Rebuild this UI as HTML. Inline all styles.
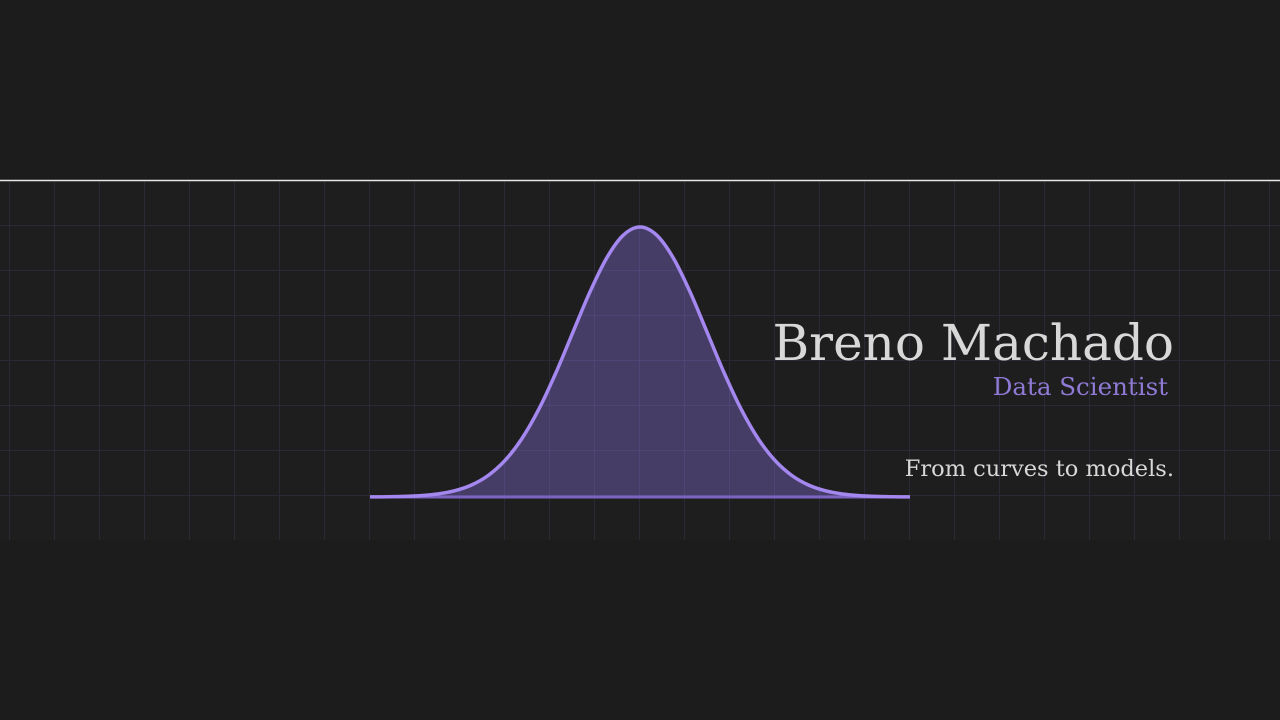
<!DOCTYPE html>
<html><head><meta charset="utf-8"><style>
html,body{margin:0;padding:0;background:#1c1c1c;width:1280px;height:720px;overflow:hidden}
svg{display:block}
</style></head><body>
<svg id="c" width="1280" height="720" xmlns="http://www.w3.org/2000/svg">
<rect x="0" y="0" width="1280" height="720" fill="#1c1c1c"/>
<rect x="0" y="181" width="1280" height="359" fill="#1e1e1e"/>
<g id="grid"></g>
<line x1="0" y1="180.5" x2="1280" y2="180.5" stroke="#e8e8e8" stroke-width="1.5"/>
<path id="area" fill="#8a70e0" fill-opacity="0.38"/>
<line id="base" stroke="#7a64c0" stroke-width="3"/>
<path id="curve" fill="none" stroke="#a488f0" stroke-width="3.5" stroke-linejoin="round"/>
<text x="1174" y="360" text-anchor="end" font-family="'DejaVu Serif','Liberation Serif',serif" font-size="50" fill="#d8d8d8">Breno Machado</text>
<text x="1168" y="395" text-anchor="end" font-family="'DejaVu Serif','Liberation Serif',serif" font-size="24.5" fill="#8f7ad6">Data Scientist</text>
<text x="1174" y="476" text-anchor="end" font-family="'DejaVu Serif','Liberation Serif',serif" font-size="22.5" fill="#d8d8d8">From curves to models.</text>
</svg>
<script>
const xValues=[-4,-3.75,-3.5,-3.25,-3,-2.75,-2.5,-2.25,-2,-1.75,-1.5,-1.25,-1,-0.75,-0.5,-0.25,0,0.25,0.5,0.75,1,1.25,1.5,1.75,2,2.25,2.5,2.75,3,3.25,3.5,3.75,4];
const densityValues=[0.0003,0.0009,0.0022,0.0051,0.0111,0.0228,0.0439,0.0796,0.1353,0.2163,0.3247,0.4578,0.6065,0.7548,0.8825,0.9692,1,0.9692,0.8825,0.7548,0.6065,0.4578,0.3247,0.2163,0.1353,0.0796,0.0439,0.0228,0.0111,0.0051,0.0022,0.0009,0.0003];
const xDomain=[-4,4], yDomain=[0,1];
const sx=v=>370+(v-xDomain[0])/(xDomain[1]-xDomain[0])*540;
const sy=v=>497-(v-yDomain[0])/(yDomain[1]-yDomain[0])*270;
const NS="http://www.w3.org/2000/svg";
const g=document.getElementById('grid');
for(let x=9.5;x<1280;x+=45){const l=document.createElementNS(NS,'line');
l.setAttribute('x1',x);l.setAttribute('x2',x);l.setAttribute('y1',181);l.setAttribute('y2',540);
l.setAttribute('stroke','#2a2a36');l.setAttribute('stroke-width',1);


g.appendChild(l);}
for(let y=225.5;y<540;y+=45){const l=document.createElementNS(NS,'line');
l.setAttribute('x1',0);l.setAttribute('x2',1280);l.setAttribute('y1',y);l.setAttribute('y2',y);
l.setAttribute('stroke','#2a2a36');l.setAttribute('stroke-width',1);


g.appendChild(l);}
const pts=xValues.map((x,i)=>[sx(x),sy(densityValues[i])]);
let d='M'+pts[0][0]+','+pts[0][1];
for(let i=0;i<pts.length-1;i++){const p0=pts[Math.max(0,i-1)],p1=pts[i],p2=pts[i+1],p3=pts[Math.min(pts.length-1,i+2)];
d+=' C'+(p1[0]+(p2[0]-p0[0])/6)+','+(p1[1]+(p2[1]-p0[1])/6)+' '+(p2[0]-(p3[0]-p1[0])/6)+','+(p2[1]-(p3[1]-p1[1])/6)+' '+p2[0]+','+p2[1];}
document.getElementById('curve').setAttribute('d',d);
document.getElementById('area').setAttribute('d',d+' L'+sx(xDomain[1])+','+sy(0)+' L'+sx(xDomain[0])+','+sy(0)+' Z');
const b=document.getElementById('base');
b.setAttribute('x1',sx(xDomain[0]));b.setAttribute('x2',sx(xDomain[1]));b.setAttribute('y1',sy(0));b.setAttribute('y2',sy(0));
</script>
</body></html>
